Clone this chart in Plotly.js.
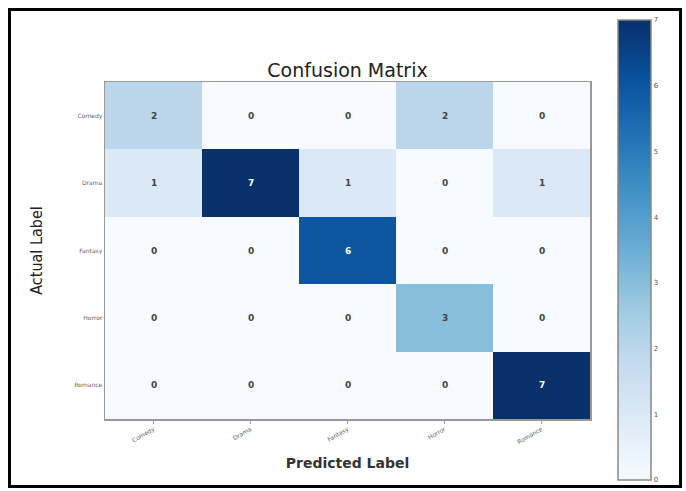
<!DOCTYPE html>
<html><head><meta charset="utf-8">
<script src="https://cdn.plot.ly/plotly-3.0.1.min.js"></script>
<style>
html,body{margin:0;padding:0;background:#fff;}
#wrap{position:relative;width:686px;height:491px;}
#chart{position:absolute;left:0;top:0;width:686px;height:491px;}
#frame{position:absolute;left:8px;top:8px;width:668px;height:474px;border:3px solid #000;pointer-events:none;}
</style></head>
<body><div id="wrap"><div id="chart"></div><div id="frame"></div></div>
<script>
const classes = ["Comedy", "Drama", "Fantasy", "Horror", "Romance"];
const predictedLabels = classes;
const actualLabels = classes;
const counts = [
  [2, 0, 0, 2, 0],
  [1, 7, 1, 0, 1],
  [0, 0, 6, 0, 0],
  [0, 0, 0, 3, 0],
  [0, 0, 0, 0, 7]
];
const colorTicks = [0, 1, 2, 3, 4, 5, 6, 7];

const blues = [
  [0, '#f7fbff'], [0.125, '#deebf7'], [0.25, '#c6dbef'], [0.375, '#9ecae1'],
  [0.5, '#6baed6'], [0.625, '#4292c6'], [0.75, '#2171b5'], [0.875, '#08519c'], [1, '#08306b']
];

const annotations = [];
counts.forEach((row, i) => row.forEach((v, j) => {
  annotations.push({
    x: predictedLabels[j], y: actualLabels[i], xref: 'x', yref: 'y',
    text: '<b>' + v + '</b>', showarrow: false,
    font: {family: 'DejaVu Sans, sans-serif', size: 9, color: v > 4 ? '#ffffff' : '#444444'}
  });
}));

const trace = {
  type: 'heatmap',
  z: counts, x: predictedLabels, y: actualLabels,
  colorscale: blues, zmin: 0, zmax: 7,
  hoverinfo: 'skip',
  colorbar: {
    x: 1.058, xanchor: 'left', xpad: 0, ypad: 0, thickness: 33, len: 1.36, lenmode: 'fraction',
    y: 0.503, yanchor: 'middle', outlinecolor: '#888', outlinewidth: 1.5,
    tickvals: colorTicks, ticks: '', ticklen: 0,
    tickfont: {size: 7, color: '#555', family: 'DejaVu Sans, sans-serif'}
  }
};

const layout = {
  width: 686, height: 491,
  margin: {l: 105, r: 96, t: 82, b: 71, pad: 0},
  paper_bgcolor: '#ffffff', plot_bgcolor: '#ffffff',
  title: {text: 'Confusion Matrix', x: 0.5, xref: 'paper', xanchor: 'center', y: 1, yref: 'paper', yanchor: 'bottom', pad: {b: 5},
    font: {family: 'DejaVu Sans, sans-serif', size: 19, color: '#222'}},
  xaxis: {
    title: {text: '<b>Predicted Label</b>', standoff: 14, font: {family: 'DejaVu Sans, sans-serif', size: 14, color: '#333'}},
    tickangle: -30, tickfont: {size: 6, color: '#666', family: 'DejaVu Sans, sans-serif'},
    showline: true, mirror: true, linecolor: '#999', linewidth: 1.5,
    ticks: 'outside', ticklen: 3, tickcolor: '#999', showgrid: false, zeroline: false
  },
  yaxis: {
    title: {text: 'Actual Label', standoff: 28, font: {family: 'Liberation Sans Narrow, DejaVu Sans Condensed, sans-serif', size: 16, color: '#222'}},
    autorange: 'reversed', tickfont: {size: 6, color: '#666', family: 'DejaVu Sans, sans-serif'},
    showline: true, mirror: true, linecolor: '#999', linewidth: 1.5,
    ticks: '', showgrid: false, zeroline: false
  },
  annotations: annotations
};

Plotly.newPlot('chart', [trace], layout, {displayModeBar: false, staticPlot: true});
</script></body></html>
